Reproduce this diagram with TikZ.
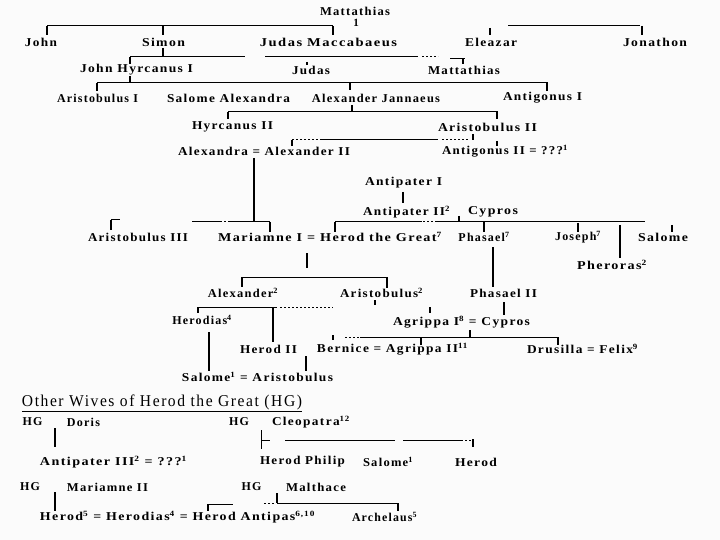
\documentclass[tikz,border=0pt]{standalone}
\usepackage{fontspec}
\newfontfamily\lbf[LetterSpace=10]{Liberation Serif}
\newcommand\supx[1]{\textsuperscript{#1}}
\newcommand\fw[2]{\resizebox{#1pt}{\height}{#2}}
\begin{document}
\begin{tikzpicture}[x=1pt,y=-1pt,
 lbl/.style={font=\lbf\bfseries\fontsize{12}{14}\selectfont, inner sep=0pt, text=black},
 ttl/.style={font=\lbf\fontsize{16.5}{18}\selectfont, inner sep=0pt, text=black},
 ln/.style={line width=1pt, black},
 tk/.style={line width=1.4pt, black},
 dl/.style={line width=1pt, black, dash pattern=on 2pt off 2pt}]
\useasboundingbox[fill=gray!3] (0,0) rectangle (720,540);

% ---------- labels ----------
\node[lbl] (mat) at (355,11) {\fw{70}{Mattathias}};
\node[lbl,font=\lbf\bfseries\fontsize{11}{12}\selectfont] (one) at (356,23) {1};
\node[lbl] (john) at (41,42) {\fw{32}{John}};
\node[lbl] (simon) at (163.5,42) {\fw{43}{Simon}};
\node[lbl] (judas) at (328.5,42) {\fw{137}{Judas Maccabaeus}};
\node[lbl] (eleazar) at (491,42) {\fw{52}{Eleazar}};
\node[lbl] (jonathon) at (655,42) {\fw{64}{Jonathon}};

\node[lbl] (jh) at (136.5,70) {\fw{113}{John Hyrcanus I}};
\node[lbl] (judas2) at (311,70) {\fw{38}{Judas}};
\node[lbl] (mat2) at (464,70) {\fw{72}{Mattathias}};

\node[lbl] (arI) at (97.5,98) {Aristobulus I};
\node[lbl] (salA) at (228.5,98) {\fw{123}{Salome Alexandra}};
\node[lbl] (alexJ) at (376,98) {\fw{128}{Alexander Jannaeus}};
\node[lbl] (antI) at (542.5,98) {\fw{79}{Antigonus I}};

\node[lbl] (hyrII) at (232.5,127) {\fw{81}{Hyrcanus II}};
\node[lbl] (arII) at (487.5,127) {\fw{99}{Aristobulus II}};

\node[lbl] (alexandra) at (264,151) {\fw{172}{Alexandra = Alexander II}};
\node[lbl] (antII) at (505,151) {\fw{126}{Antigonus II = ???\supx{1}}};

\node[lbl] (antipI) at (403.5,183) {\fw{77}{Antipater I}};
\node[lbl] (antipII) at (406.5,212) {\fw{87}{Antipater II\supx{2}}};
\node[lbl] (cypros) at (493,212) {\fw{50}{Cypros}};

\node[lbl] (arIII) at (138,237) {\fw{100}{Aristobulus III}};
\node[lbl] (mar) at (330,237) {\fw{224}{Mariamne I = Herod the Great\supx{7}}};
\node[lbl] (phasael) at (484,237) {Phasael\supx{7}};
\node[lbl] (joseph) at (578,237) {Joseph\supx{7}};
\node[lbl] (salome) at (663,237) {\fw{50}{Salome}};
\node[lbl] (pheroras) at (612,265) {\fw{70}{Pheroras\supx{2}}};

\node[lbl] (alex2) at (243,293) {\fw{70}{Alexander\supx{2}}};
\node[lbl] (ar2) at (381.5,293) {\fw{83}{Aristobulus\supx{2}}};
\node[lbl] (phII) at (503.5,293) {\fw{67}{Phasael II}};

\node[lbl] (herodias) at (202,320) {Herodias\supx{4}};
\node[lbl] (agI) at (461.5,322) {\fw{137}{Agrippa I\supx{8} = Cypros}};

\node[lbl] (herodII) at (268.5,349) {\fw{57}{Herod II}};
\node[lbl] (bern) at (392.5,349) {\fw{151}{Bernice = Agrippa II\supx{11}}};
\node[lbl] (drus) at (582.5,349) {\fw{111}{Drusilla = Felix\supx{9}}};

\node[lbl] (salAr) at (257.5,377) {\fw{151}{Salome\supx{1} = Aristobulus}};

% ---------- other wives ----------
\node[ttl] (title) at (162,403) {\underline{\fw{280}{Other Wives of Herod the Great (HG)}}};

\node[lbl] (hgD) at (32.5,422) {HG};
\node[lbl] (doris) at (83.5,422) {\fw{33}{Doris}};
\node[lbl] (antIII) at (113.5,462) {\fw{147}{Antipater III\supx{2} = ???\supx{1}}};

\node[lbl] (hgC) at (239,422) {HG};
\node[lbl] (cleo) at (311,422) {\fw{78}{Cleopatra\supx{12}}};
\node[lbl] (hp) at (302.5,462) {\fw{85}{Herod Philip}};
\node[lbl] (sal1) at (388,462) {\fw{50}{Salome\supx{1}}};
\node[lbl] (herod) at (476,462) {\fw{42}{Herod}};

\node[lbl] (hgM) at (30,487) {HG};
\node[lbl] (marII) at (107.5,487) {\fw{81}{Mariamne II}};
\node[lbl] (hgMal) at (251.5,487) {HG};
\node[lbl] (malth) at (316,487) {\fw{60}{Malthace}};

\node[lbl] (bottom) at (177.5,517) {\fw{275}{Herod\supx{5} = Herodias\supx{4} = Herod Antipas\supx{6,10}}};
\node[lbl] (arch) at (384.5,517) {\fw{65}{Archelaus\supx{5}}};

% ---------- connectors ----------
% generation 1
\draw[ln] (47,26) -- (333,26);
\draw[ln] (508,26) -- (640,26);
\draw[tk] (47,26) -- (47,35);
\draw[tk] (163,26) -- (163,35);
\draw[tk] (333,26) -- (333,35);
\draw[tk] (490,28) -- (490,35);
\draw[tk] (642,26) -- (642,35);

% generation 2
\draw[tk] (163,48) -- (163,57);
\draw[ln] (130,57) -- (245,57);
\draw[ln] (265,57) -- (418,57);
\draw[dl] (422,57) -- (438,57);
\draw[ln] (450,59) -- (465,59);
\draw[tk] (463,59) -- (463,64);
\draw[tk] (130,57) -- (130,64);
\draw[tk] (307,62) -- (307,65);

% generation 3
\draw[ln] (97,83) -- (548,83);
\draw[tk] (130,76) -- (130,83);
\draw[tk] (97,83) -- (97,91);
\draw[tk] (350,83) -- (350,90);
\draw[tk] (547,83) -- (547,91);

% generation 4
\draw[tk] (352,105) -- (352,112);
\draw[ln] (228,112) -- (498,112);
\draw[tk] (228,112) -- (228,119);
\draw[tk] (497,112) -- (497,119);

% generation 5
\draw[dl] (292,140) -- (320,140);
\draw[ln] (320,140) -- (438,140);
\draw[dl] (442,140) -- (468,140);
\draw[tk] (473,134) -- (473,140);
\draw[tk] (292,140) -- (292,146);
\draw[tk] (497,141) -- (497,146);

% Alexandra -> Mariamne
\draw[tk] (254,158) -- (254,222);
\draw[ln] (111,220) -- (120,220);
\draw[tk] (111,220) -- (111,230);
\draw[ln] (192,222) -- (222,222);
\draw[dl] (224,222) -- (230,222);
\draw[ln] (230,222) -- (270,222);
\draw[tk] (270,222) -- (270,232);

% Antipater line
\draw[tk] (403,192) -- (403,203);
\draw[tk] (459,216) -- (459,222);
\draw[ln] (335,222) -- (422,222);
\draw[dl] (423,222) -- (435,222);
\draw[ln] (435,222) -- (645,222);
\draw[tk] (335,222) -- (335,232);
\draw[tk] (484,222) -- (484,232);
\draw[tk] (578,223) -- (578,232);
\draw[tk] (672,225) -- (672,232);
\draw[tk] (620,225) -- (620,258);

% Mariamne & Herod children
\draw[tk] (307,253) -- (307,268);
\draw[ln] (242,277) -- (387,277);
\draw[tk] (242,277) -- (242,287);
\draw[tk] (387,277) -- (387,288);
\draw[tk] (493,247) -- (493,287);

% next generation
\draw[ln] (198,307) -- (277,307);
\draw[dl] (280,307) -- (333,307);
\draw[tk] (198,307) -- (198,313);
\draw[tk] (273,307) -- (273,342);
\draw[tk] (375,300) -- (375,305);
\draw[tk] (430,307) -- (430,313);
\draw[tk] (504,302) -- (504,315);

\draw[tk] (470,330) -- (470,337);
\draw[dl] (345,337) -- (360,337);
\draw[ln] (360,337) -- (558,337);
\draw[tk] (333,335) -- (333,340);
\draw[tk] (421,337) -- (421,345);
\draw[tk] (558,337) -- (558,345);

\draw[tk] (209,332) -- (209,371);
\draw[tk] (306,356) -- (306,371);

% other wives connectors
\draw[tk] (55,428) -- (55,447);

\draw[ln] (261,430) -- (261,449);
\draw[ln] (261,440) -- (270,440);
\draw[ln] (285,440) -- (395,440);
\draw[ln] (403,440) -- (463,440);
\draw[dl] (465,440) -- (471,440);
\draw[tk] (473,439) -- (473,447);

\draw[tk] (55,492) -- (55,511);
\draw[ln] (208,504) -- (233,504);
\draw[tk] (208,504) -- (208,511);
\draw[dl] (264,503) -- (274,503);
\draw[tk] (277,493) -- (277,503);
\draw[ln] (277,503) -- (398,503);
\draw[tk] (398,503) -- (398,511);
\end{tikzpicture}
\end{document}
